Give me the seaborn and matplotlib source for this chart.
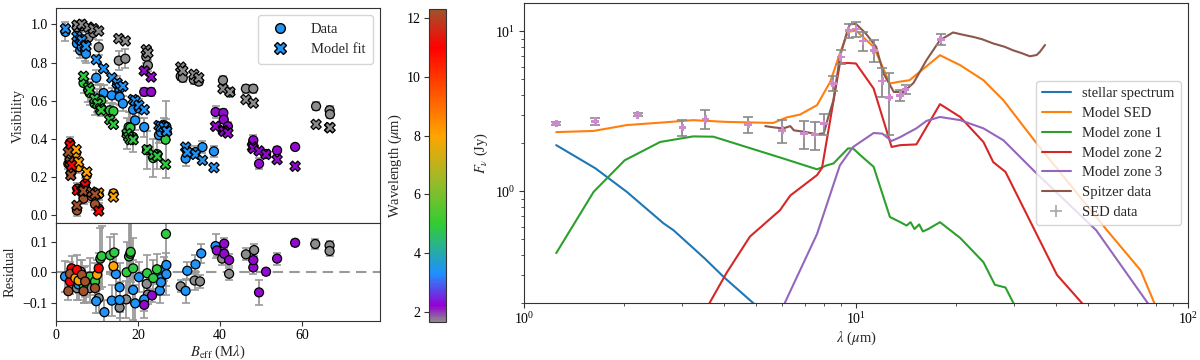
import numpy as np
import pandas as pd
import matplotlib
matplotlib.use("Agg")
import matplotlib.pyplot as plt
import seaborn as sns
from matplotlib.colors import LinearSegmentedColormap, Normalize
from matplotlib.lines import Line2D
from matplotlib.cm import ScalarMappable

# ---------------- data: visibility panel ----------------
vis_B = [5.1, 6.3, 7.9, 9.1, 10.4, 15.3, 16.9, 22.0, 22.4, 30.4, 30.9, 33.6, 34.8, 40.7, 42.4, 46.3, 48.1, 63.4, 66.7, 66.8,
         2.3, 5.1, 5.9, 6.3, 7.1, 7.3, 9.8, 11.6, 13.6, 14.9, 15.5, 16.3, 18.8, 19.3, 20.2, 21.5, 25.1, 25.6, 26.3, 26.9, 27.0, 31.6, 32.0, 34.0, 35.7, 38.5,
         6.7, 7.9, 8.2, 9.4, 10.1, 10.8, 11.0, 13.1, 14.0, 17.3, 17.7, 18.1, 18.8, 22.2, 23.7, 24.7, 26.7,
         21.5, 23.2, 38.9, 40.8, 40.9, 41.9, 47.9, 48.1, 49.5, 51.2, 53.9, 58.3,
         3.4, 3.0, 3.4, 4.9, 5.5, 3.8, 3.6, 7.5, 7.1, 5.2, 6.3, 6.7, 8.7, 10.4, 14.0, 5.1, 10.4, 9.5]
vis_wl = [1.65] * 20 + [3.4] * 26 + [4.9] * 17 + [2.2] * 12 + \
         [11.0, 12.3, 12.3, 8.0, 8.0, 11.0, 12.3, 8.0, 11.0, 11.0, 12.3, 12.3, 12.3, 8.0, 8.0, 12.3, 11.0, 12.3]
vis_obs = [0.985, 0.99, 0.93, 0.955, 0.88, 0.81, 0.82, 0.83, 0.785, 0.728, 0.72, 0.71, 0.70, 0.707, 0.643, 0.663, 0.663, 0.571, 0.55, 0.529,
           0.96, 0.90, 0.864, 0.88, 0.86, 0.846, 0.72, 0.64, 0.628, 0.687, 0.62, 0.585, 0.553, 0.497, 0.56, 0.462, 0.42, 0.435, 0.472, 0.465, 0.434, 0.297, 0.335, 0.331, 0.357, 0.335,
           0.693, 0.655, 0.64, 0.585, 0.60, 0.606, 0.60, 0.55, 0.545, 0.428, 0.462, 0.459, 0.41, 0.341, 0.30, 0.32, 0.396,
           0.646, 0.646, 0.541, 0.536, 0.501, 0.466, 0.372, 0.393, 0.27, 0.321, 0.34, 0.358,
           0.38, 0.27, 0.275, 0.325, 0.252, 0.23, 0.22, 0.21, 0.165, 0.14, 0.12, 0.087, 0.10, 0.109, 0.115, 0.026, 0.036, 0.058]
vis_err = [0.03, 0.03, 0.04, 0.03, 0.04, 0.05, 0.05, 0.03, 0.03, 0.02, 0.02, 0.02, 0.02, 0.02, 0.02, 0.02, 0.02, 0.02, 0.02, 0.02,
           0.05, 0.04, 0.04, 0.04, 0.05, 0.05, 0.04, 0.04, 0.04, 0.04, 0.04, 0.04, 0.04, 0.05, 0.05, 0.05, 0.04, 0.04, 0.04, 0.04, 0.04, 0.04, 0.03, 0.03, 0.03, 0.03,
           0.05, 0.06, 0.06, 0.06, 0.06, 0.08, 0.08, 0.04, 0.04, 0.08, 0.08, 0.08, 0.08, 0.10, 0.10, 0.08, 0.20,
           0.02, 0.02, 0.03, 0.02, 0.02, 0.02, 0.02, 0.03, 0.03, 0.02, 0.02, 0.01,
           0.03, 0.03, 0.03, 0.03, 0.03, 0.03, 0.03, 0.03, 0.03, 0.03, 0.03, 0.03, 0.03, 0.03, 0.02, 0.03, 0.03, 0.03]
vis_mod = [0.995, 1.0, 0.985, 0.977, 0.965, 0.925, 0.913, 0.867, 0.85, 0.776, 0.757, 0.738, 0.72, 0.663, 0.646, 0.606, 0.588, 0.476, 0.459, 0.459,
           0.977, 0.937, 0.92, 0.916, 0.89, 0.885, 0.815, 0.768, 0.72, 0.693, 0.669, 0.676, 0.606, 0.60, 0.576, 0.553, 0.47, 0.465, 0.462, 0.441, 0.44, 0.357, 0.33, 0.319, 0.288, 0.25,
           0.728, 0.669, 0.654, 0.611, 0.585, 0.559, 0.55, 0.501, 0.476, 0.428, 0.41, 0.396, 0.396, 0.344, 0.319, 0.309, 0.267,
           0.756, 0.724, 0.466, 0.445, 0.44, 0.431, 0.358, 0.35, 0.337, 0.319, 0.292, 0.257,
           0.366, 0.331, 0.28, 0.344, 0.279, 0.262, 0.209, 0.227, 0.157, 0.131, 0.127, 0.127, 0.122, 0.117, 0.096, 0.052, 0.023, 0.11]

# ---------------- data: residual panel ----------------
res_B = [5.1, 6.0, 7.3, 8.2, 10.4, 15.5, 17.1, 22.1, 22.4, 30.4, 33.8, 35.1, 40.5, 42.2, 46.3, 48.3, 63.2, 66.7, 66.7,
         2.2, 5.5, 9.8, 11.8, 13.6, 14.6, 15.5, 15.5, 18.8, 19.3, 20.2, 21.5, 25.3, 25.6, 25.6, 26.3, 26.9, 26.9, 31.6, 32.0, 34.0, 35.4, 38.9,
         6.7, 8.2, 9.5, 10.8, 11.1, 13.2, 14.2, 17.2, 17.8, 18.1, 18.2, 18.8, 22.2, 23.7, 24.6, 26.8,
         21.5, 23.4, 39.2, 41.0, 41.0, 42.2, 48.1, 48.1, 49.5, 51.2, 53.9, 58.3,
         3.0, 3.4, 3.8, 3.4, 4.7, 5.5, 5.1, 6.3, 6.7, 7.1, 9.5, 10.0, 10.4, 14.0]
res_wl = [1.65] * 19 + [3.4] * 23 + [4.9] * 16 + [2.2] * 12 + \
         [12.3, 11.0, 11.0, 12.3, 8.0, 8.0, 11.0, 12.3, 12.3, 12.3, 12.3, 8.0, 11.0, 8.0]
res_val = [-0.052, 0.002, -0.048, -0.052, -0.085, -0.116, -0.089, -0.038, -0.073, -0.046, -0.027, -0.030, 0.045, -0.005, 0.059, 0.073, 0.093, 0.088, 0.070,
           -0.014, -0.040, -0.095, -0.131, -0.093, -0.006, -0.049, -0.091, -0.058, -0.102, -0.016, -0.089, -0.060, -0.020, -0.033, 0.010, 0.024, -0.006, -0.061, 0.005, 0.026, 0.062, 0.086,
           -0.041, -0.014, -0.030, 0.045, 0.053, 0.056, 0.065, 0.000, 0.052, 0.061, 0.067, 0.013, -0.003, -0.019, 0.010, 0.126,
           -0.107, -0.076, 0.072, 0.094, 0.061, 0.040, 0.016, 0.040, -0.066, 0.002, 0.045, 0.097,
           -0.062, -0.030, 0.013, -0.005, -0.019, -0.027, 0.008, -0.008, -0.062, -0.030, -0.052, -0.008, 0.013, 0.020]
res_err = [0.04, 0.04, 0.05, 0.05, 0.05, 0.06, 0.06, 0.03, 0.03, 0.02, 0.03, 0.02, 0.02, 0.02, 0.02, 0.02, 0.015, 0.015, 0.015,
           0.05, 0.05, 0.04, 0.04, 0.05, 0.08, 0.08, 0.06, 0.10, 0.06, 0.05, 0.06, 0.04, 0.04, 0.04, 0.04, 0.04, 0.04, 0.04, 0.03, 0.03, 0.03, 0.04,
           0.06, 0.06, 0.06, 0.10, 0.10, 0.06, 0.06, 0.10, 0.12, 0.12, 0.10, 0.10, 0.06, 0.06, 0.05, 0.20,
           0.02, 0.02, 0.02, 0.02, 0.02, 0.02, 0.02, 0.02, 0.04, 0.01, 0.02, 0.01,
           0.03, 0.04, 0.04, 0.04, 0.04, 0.04, 0.05, 0.05, 0.04, 0.05, 0.05, 0.05, 0.05, 0.03]

# ---------------- data: SED panel ----------------
star_lam = [1.25, 1.64, 2.04, 2.63, 2.82, 3.5, 4.0, 4.9, 5.5]
star_F = [1.94, 1.39, 0.99, 0.63, 0.57, 0.38, 0.29, 0.20, 0.16]
sed_lam = [1.25, 1.62, 2.04, 2.63, 3.23, 4.08, 5.63, 6.18, 6.78, 7.63, 8.36, 8.94, 9.46, 10.0, 11.3, 12.65, 13.4, 14.5, 17.9, 20.6, 24.2, 27.8, 35.0, 57.0, 72.0, 80.0]
sed_F = [2.34, 2.38, 2.59, 2.69, 2.78, 2.71, 2.67, 2.89, 3.01, 3.45, 4.82, 7.25, 9.9, 10.1, 7.98, 4.71, 4.82, 4.94, 7.08, 6.13, 4.94, 3.7, 1.99, 0.57, 0.32, 0.19]
z1_lam = [1.25, 1.62, 2.01, 2.57, 3.23, 3.72, 4.67, 6.04, 7.63, 8.16, 8.55, 9.46, 9.8, 10.3, 11.3, 12.65, 13.6, 14.2, 14.6, 15.0, 15.5, 15.9, 16.5, 17.9, 20.6, 24.2, 26.2, 28.2, 31.0]
z1_F = [0.41, 0.99, 1.56, 2.03, 2.2, 2.19, 1.89, 1.6, 1.37, 1.45, 1.49, 1.85, 1.85, 1.68, 1.42, 0.69, 0.64, 0.61, 0.64, 0.58, 0.62, 0.56, 0.58, 0.64, 0.51, 0.36, 0.26, 0.25, 0.17]
z2_lam = [3.62, 4.08, 4.79, 5.9, 6.34, 7.63, 7.9, 8.94, 9.46, 10.0, 11.3, 12.8, 13.6, 15.2, 17.9, 20.6, 24.2, 25.9, 28.2, 40.3, 47.9, 52.0]
z2_F = [0.2, 0.31, 0.52, 0.76, 0.94, 1.26, 1.4, 6.28, 6.33, 6.28, 4.38, 1.89, 1.94, 1.96, 3.5, 2.91, 2.03, 1.52, 1.32, 0.30, 0.2, 0.16]
z3_lam = [6.1, 7.63, 8.94, 9.8, 11.3, 12.0, 12.8, 13.6, 14.2, 15.2, 16.3, 17.9, 20.6, 24.2, 27.8, 35.0, 52.9, 75.6, 80.0]
z3_F = [0.2, 0.54, 1.45, 1.89, 2.31, 2.29, 2.06, 2.18, 2.29, 2.47, 2.75, 2.91, 2.78, 2.47, 2.08, 1.29, 0.57, 0.2, 0.16]
spz_lam = [5.33, 5.7, 6.04, 6.34, 6.5, 7.0, 7.63, 8.0, 8.25, 8.55, 8.94, 9.46, 9.6, 10.0, 10.7, 11.5, 12.1, 13.0, 13.9, 14.9, 16.3, 17.9, 19.6, 21.0, 22.6, 24.0, 25.9, 28.0, 29.7, 31.5, 33.4, 35.0, 35.8, 37.1]
spz_F = [2.55, 2.5, 2.47, 2.55, 2.4, 2.35, 2.27, 2.3, 2.91, 3.7, 6.9, 10.4, 11.06, 11.1, 9.68, 7.98, 5.44, 4.17, 4.17, 4.75, 6.59, 8.79, 9.82, 9.5, 9.2, 8.9, 8.38, 8.0, 7.6, 7.3, 6.97, 7.1, 7.43, 8.2]
pts_lam = [1.25, 1.64, 2.2, 3.0, 3.52, 4.74, 6.0, 6.98, 7.52, 8.0, 8.5, 8.99, 9.51, 10.0, 10.5, 11.3, 12.0, 12.6, 13.6, 14.1, 18.0]
pts_F = [2.65, 2.73, 3.01, 2.5, 2.82, 2.61, 2.4, 2.29, 2.26, 2.65, 4.71, 6.9, 10.1, 10.3, 8.7, 7.6, 4.89, 3.85, 3.98, 4.33, 8.87]
pts_err = [0.05, 0.15, 0.06, 0.3, 0.38, 0.3, 0.4, 0.45, 0.45, 0.4, 0.5, 0.7, 1.0, 1.1, 1.2, 1.2, 1.0, 1.6, 0.3, 0.3, 0.7]

# ---------------- style ----------------
sns.set_style("ticks")
plt.rcParams["font.family"] = ["Liberation Serif", "DejaVu Serif"]
plt.rcParams["mathtext.fontset"] = "stix"
plt.rcParams["xtick.labelsize"] = 10
plt.rcParams["ytick.labelsize"] = 10
plt.rcParams["axes.labelsize"] = 10.5
plt.rcParams["xtick.major.pad"] = 2.5
plt.rcParams["ytick.major.pad"] = 2.5
plt.rcParams["axes.edgecolor"] = "#333333"
plt.rcParams["xtick.color"] = "#333333"
plt.rcParams["ytick.color"] = "#333333"
plt.rcParams["xtick.labelcolor"] = "black"
plt.rcParams["ytick.labelcolor"] = "black"

cmap = LinearSegmentedColormap.from_list(
    "wl",
    [(0.0, "#8c8c8c"), (0.0507, "#9400D3"), (0.154, "#1E90FF"), (0.3136, "#32CD32"),
     (0.45, "#9aba2a"), (0.595, "#FFA500"), (0.877, "#FF0000"), (1.0, "#A0522D")])
norm = Normalize(vmin=1.66, vmax=12.31)

fig = plt.figure(figsize=(12, 3.6), dpi=100)
ax_v = fig.add_axes([0.0467, 0.3806, 0.27, 0.597])
ax_r = fig.add_axes([0.0467, 0.1083, 0.27, 0.2723], sharex=ax_v)
cax = fig.add_axes([0.3575, 0.1056, 0.0142, 0.869])
ax_s = fig.add_axes([0.4367, 0.1583, 0.5533, 0.8333])

vis = pd.DataFrame({"B": vis_B, "wl": vis_wl, "obs": vis_obs, "err": vis_err, "mod": vis_mod})
res = pd.DataFrame({"B": res_B, "wl": res_wl, "val": res_val, "err": res_err})

ebkw = dict(fmt="none", ecolor="#9a9a9a", elinewidth=1.3, capsize=3, capthick=1.2, zorder=1)
ax_v.errorbar(vis["B"], vis["obs"], yerr=vis["err"], **ebkw)
sns.scatterplot(data=vis, x="B", y="obs", hue="wl", palette=cmap, hue_norm=norm, marker="o",
                s=42, edgecolor="black", linewidth=0.9, legend=False, ax=ax_v, zorder=2)
sns.scatterplot(data=vis, x="B", y="mod", hue="wl", palette=cmap, hue_norm=norm, marker="X",
                s=55, edgecolor="black", linewidth=0.9, legend=False, ax=ax_v, zorder=3)
ax_v.set_ylim(-0.04, 1.085)
ax_v.set_xlim(0, 79)
ax_v.set_yticks([0.0, 0.2, 0.4, 0.6, 0.8, 1.0])
ax_v.set_ylabel("Visibility")
ax_v.set_xlabel("")
ax_v.tick_params(axis="x", labelbottom=False)
leg_col = cmap(norm(3.4))
h1 = Line2D([], [], marker="o", linestyle="none", markerfacecolor=leg_col, markeredgecolor="black", markersize=7)
h2 = Line2D([], [], marker="X", linestyle="none", markerfacecolor=leg_col, markeredgecolor="black", markersize=8)
ax_v.legend([h1, h2], ["Data", "Model fit"], loc="upper right", fontsize=10.5, frameon=True,
            borderpad=0.5, handletextpad=1.1)

ax_r.errorbar(res["B"], res["val"], yerr=res["err"], **ebkw)
sns.scatterplot(data=res, x="B", y="val", hue="wl", palette=cmap, hue_norm=norm, marker="o",
                s=42, edgecolor="black", linewidth=0.9, legend=False, ax=ax_r, zorder=2)
ax_r.axhline(0, color="#999999", linestyle=(0, (5, 3)), linewidth=1.5, zorder=0)
ax_r.set_ylim(-0.16, 0.162)
ax_r.set_yticks([-0.1, 0.0, 0.1])
ax_r.set_xticks([0, 20, 40, 60])
ax_r.set_ylabel("Residual")
ax_r.set_xlabel(r"$B_\mathrm{eff}$ (M$\lambda$)", labelpad=1)

sm = ScalarMappable(norm=norm, cmap=cmap)
cb = fig.colorbar(sm, cax=cax)
cb.set_ticks([2, 4, 6, 8, 10, 12])
cax.yaxis.set_ticks_position("left")
cax.yaxis.set_label_position("left")
cb.set_label(r"Wavelength ($\mu$m)", labelpad=2)

# ---------------- SED panel ----------------
lines = [(star_lam, star_F, "stellar spectrum", "tab:blue"),
         (sed_lam, sed_F, "Model SED", "tab:orange"),
         (z1_lam, z1_F, "Model zone 1", "tab:green"),
         (z2_lam, z2_F, "Model zone 2", "tab:red"),
         (z3_lam, z3_F, "Model zone 3", "tab:purple"),
         (spz_lam, spz_F, "Spitzer data", "tab:brown")]
handles = []
for lam, F, lab, col in lines:
    sns.lineplot(x=lam, y=F, color=col, linewidth=1.5, sort=False, estimator=None, ax=ax_s)
    handles.append(Line2D([], [], color=col, linewidth=1.5))
ax_s.errorbar(pts_lam, pts_F, yerr=pts_err, fmt="none", ecolor="#8a8a8a", elinewidth=1.3,
              capsize=3.5, capthick=1.2, zorder=4)
sns.scatterplot(x=pts_lam, y=pts_F, marker="P", s=32, color="#cc8ccc", edgecolor="none", ax=ax_s, zorder=5)
handles.append(Line2D([], [], marker="+", linestyle="none", color="#a8a8a8", markersize=8, markeredgewidth=1.2))
ax_s.set_xscale("log")
ax_s.set_yscale("log")
ax_s.set_xlim(1, 100)
ax_s.set_ylim(0.2, 15)
ax_s.set_xlabel(r"$\lambda$ ($\mu$m)", labelpad=2)
ax_s.set_ylabel(r"$F_\nu$ (Jy)")
ax_s.legend(handles, ["stellar spectrum", "Model SED", "Model zone 1", "Model zone 2", "Model zone 3",
                      "Spitzer data", "SED data"], loc="center right", fontsize=10.5, frameon=True,
            borderaxespad=0.5, labelspacing=0.45)

fig.savefig("out.png", dpi=100)
